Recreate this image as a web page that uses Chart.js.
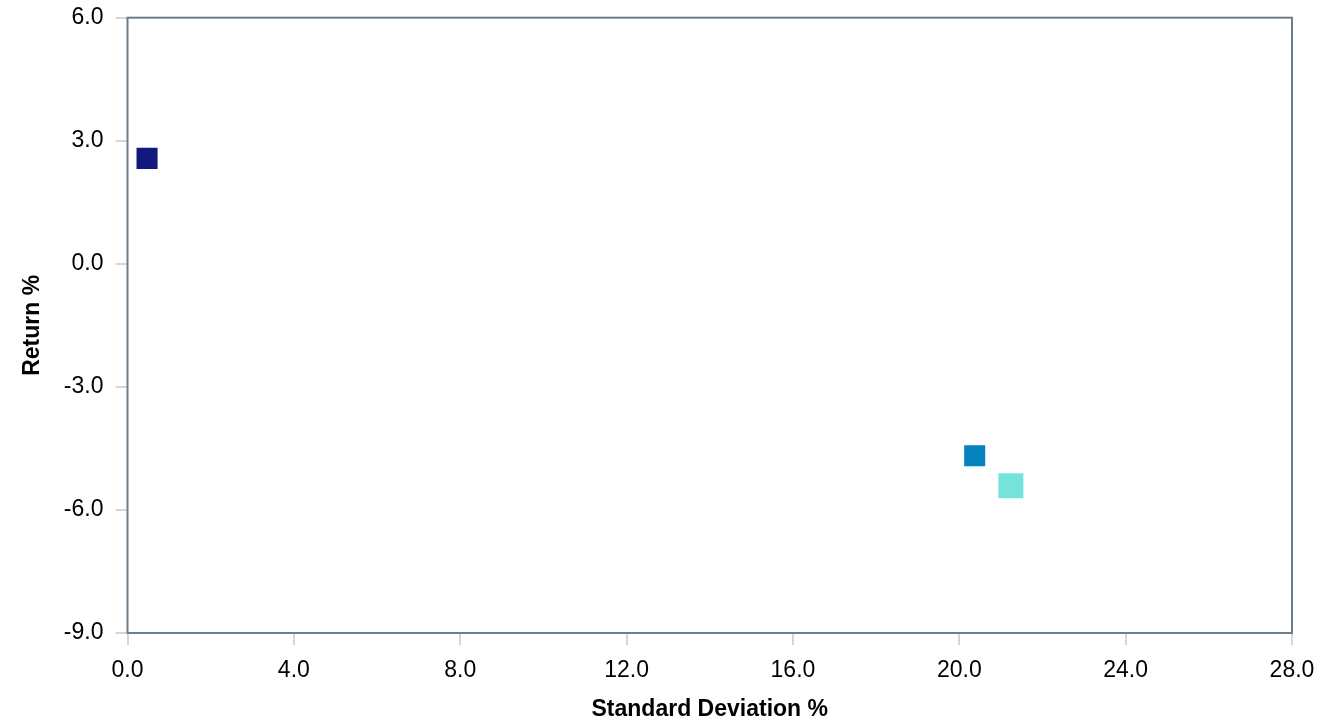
<!DOCTYPE html>
<html>
<head>
<meta charset="utf-8">
<script src="https://cdn.jsdelivr.net/npm/chart.js@4"></script>
<style>
  html, body { margin: 0; padding: 0; background: #fff; }
  #wrap { width: 1318px; height: 724px; }
</style>
</head>
<body>
<div id="wrap"><canvas id="myChart"></canvas></div>
<script>
// risk / return points, one per series
var seriesNames = ["Series A", "Series B", "Series C"];
var stdDev = [0.47, 20.37, 21.24];
var returns = [2.57, -4.68, -5.41];
var colors = ["#13197c", "#0483bf", "#76e3da"];
var sizes = [14.9, 14.9, 17.7];

// axis ranges
var xTicks = [0, 28, 4];
var yTicks = [-9, 6, 3];

var tickFont = { family: "Liberation Sans, Arial, Helvetica, sans-serif", size: 23 };
var titleFont = { family: "Liberation Sans, Arial, Helvetica, sans-serif", size: 23, weight: "bold" };

var datasets = seriesNames.map(function (name, i) {
  return {
    label: name,
    data: [{ x: stdDev[i], y: returns[i] }],
    backgroundColor: colors[i],
    borderColor: colors[i],
    borderWidth: 0,
    pointStyle: "rect",
    pointRadius: sizes[i],
    pointHoverRadius: sizes[i]
  };
});

// frame round the plot area
const frame = {
  id: "frame",
  afterDraw: function (chart) {
    var a = chart.chartArea, ctx = chart.ctx;
    ctx.save();
    ctx.strokeStyle = "#6d7d8a";
    ctx.lineWidth = 2;
    ctx.strokeRect(a.left, a.top, a.right - a.left, a.bottom - a.top);
    ctx.restore();
  }
};

const chart = new Chart("myChart", {
  type: "scatter",
  data: { datasets: datasets },
  plugins: [frame],
  options: {
    responsive: true,
    maintainAspectRatio: false,
    animation: false,
    layout: { padding: { top: 12.5, right: 26, left: 0, bottom: 0 } },
    plugins: { legend: { display: false }, tooltip: { enabled: false } },
    scales: {
      x: {
        type: "linear",
        min: xTicks[0], max: xTicks[1],
        afterFit: function (s) { s.height = 91; s.paddingLeft = 0; s.paddingRight = 0; },
        grid: { drawOnChartArea: false, tickLength: 12, color: "#d6d6d6", lineWidth: 2 },
        border: { display: false },
        ticks: {
          stepSize: xTicks[2], color: "#000", font: tickFont, padding: 12,
          maxRotation: 0,
          callback: function (v) { return v.toFixed(1); }
        },
        title: { display: true, text: "Standard Deviation %", color: "#000", font: titleFont, padding: { top: 0, bottom: 1 } }
      },
      y: {
        min: yTicks[0], max: yTicks[1],
        afterFit: function (s) { s.width = 127.5; s.paddingTop = 0; s.paddingBottom = 0; },
        grid: { drawOnChartArea: false, tickLength: 12, color: "#d6d6d6", lineWidth: 2 },
        border: { display: false },
        ticks: {
          stepSize: yTicks[2], color: "#000", font: tickFont, padding: 12,
          callback: function (v) { return v.toFixed(1); }
        },
        title: { display: true, text: "Return %", color: "#000", font: titleFont, padding: { top: 19, bottom: 0 } }
      }
    }
  }
});
</script>
</body>
</html>
